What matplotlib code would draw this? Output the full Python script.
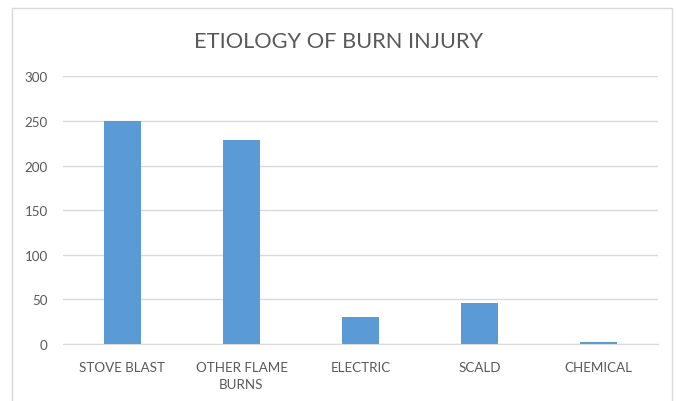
import matplotlib
matplotlib.use("Agg")
import matplotlib.pyplot as plt
from matplotlib.patches import Rectangle

categories = ["STOVE BLAST", "OTHER FLAME\nBURNS", "ELECTRIC", "SCALD", "CHEMICAL"]
cases = [250, 229, 30, 46, 2]
yticks = [0, 50, 100, 150, 200, 250, 300]

plt.rcParams['font.family'] = ['Lato', 'DejaVu Sans']
txt = '#595959'

fig = plt.figure(figsize=(6.77, 4.02), dpi=100)
# chart frame (bottom edge runs off the picture)
fig.patches.append(Rectangle((12/677, -0.02), 660/677, 1 - 9/402 + 0.02,
                             transform=fig.transFigure, fill=False,
                             edgecolor='#d9d9d9', linewidth=1))

ax = fig.add_axes([0.093, 0.1418, 0.879, 0.666])
x = range(len(categories))
ax.bar(x, cases, width=0.31, color='#5b9bd5', zorder=3)

ax.set_xlim(-0.5, len(categories) - 0.5)
ax.set_ylim(0, 300)
ax.set_yticks(yticks)
ax.set_xticks(list(x))
ax.set_xticklabels(categories, fontsize=9.6, color=txt, linespacing=1.55)
ax.tick_params(axis='y', labelsize=9.6, labelcolor=txt, length=0, pad=11)
ax.tick_params(axis='x', length=0, pad=12)

ax.grid(axis='y', color='#d9d9d9', linewidth=1, zorder=0)
for s in ['top', 'right', 'left']:
    ax.spines[s].set_visible(False)
ax.spines['bottom'].set_color('#d9d9d9')

fig.text(0.5, 0.895, "ETIOLOGY OF BURN INJURY", ha='center', va='center',
         fontsize=15.7, color=txt)

fig.savefig("out.png", dpi=100)
